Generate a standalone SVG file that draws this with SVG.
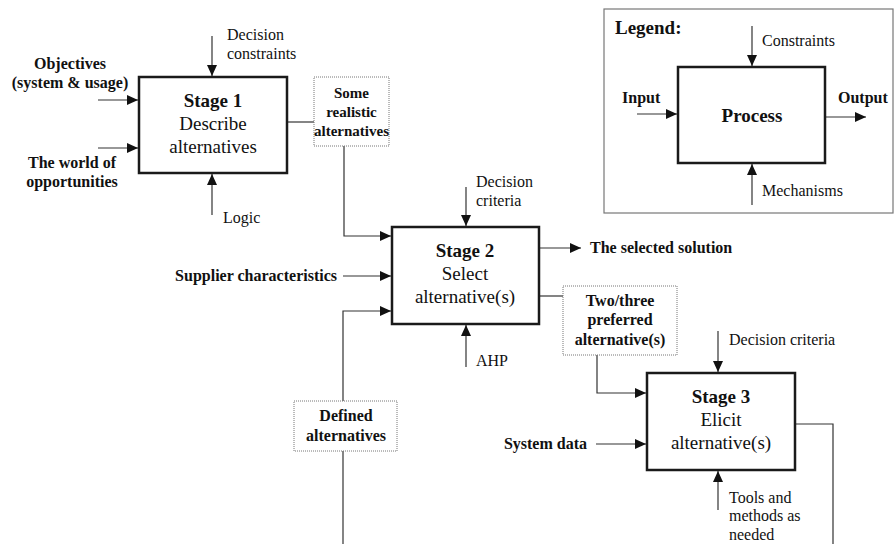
<svg xmlns="http://www.w3.org/2000/svg" width="895" height="544" viewBox="0 0 895 544">
<style>
.t{font-family:"Liberation Serif","Times New Roman",serif;font-size:16px;fill:#111}
.b{font-weight:bold}
.st{font-family:"Liberation Serif","Times New Roman",serif;font-size:19px;fill:#111;text-anchor:middle}
.c{text-anchor:middle}
.e{text-anchor:end}
.box{fill:#fff;stroke:#1a1a1a;stroke-width:2.5}
.dot{fill:#fff;stroke:#777;stroke-width:1;stroke-dasharray:1 1}
.ln{fill:none;stroke:#333;stroke-width:1.2}
.arr{fill:none;stroke:#333;stroke-width:1.2;marker-end:url(#ah)}
</style>
<defs>
<marker id="ah" markerUnits="userSpaceOnUse" markerWidth="12" markerHeight="10" refX="11" refY="5" orient="auto">
<path d="M0,0 L11,5 L0,10 Z" fill="#111"/>
</marker>
</defs>
<rect width="895" height="544" fill="#fff"/>

<g id="legend-frame">
<rect x="604" y="9" width="289" height="204" fill="none" stroke="#777" stroke-width="1.2"/>
</g>

<g id="connectors">
<!-- Stage 1 -->
<path class="arr" d="M212,36 V76"/>
<path class="arr" d="M98,100 H138"/>
<path class="arr" d="M98,148 H138"/>
<path class="arr" d="M212,215 V174"/>
<path class="ln" d="M287,122 H314"/>
<path class="arr" d="M344,146 V236 H391"/>
<!-- Stage 2 -->
<path class="arr" d="M466,187 V226"/>
<path class="arr" d="M343,276 H391"/>
<path class="arr" d="M343,401 V311 H391"/>
<path class="arr" d="M466,367 V325"/>
<path class="arr" d="M539,248 H581"/>
<path class="ln" d="M539,296 H563"/>
<path class="ln" d="M343,451 V544"/>
<!-- Stage 3 -->
<path class="arr" d="M597,355 V393 H646"/>
<path class="arr" d="M718,331 V372"/>
<path class="arr" d="M596,444 H646"/>
<path class="arr" d="M718,510 V471"/>
<path class="ln" d="M795,424 H833 V544"/>
<!-- Legend -->
<path class="arr" d="M752,26 V66"/>
<path class="arr" d="M637,114 H677"/>
<path class="arr" d="M825,117 H866"/>
<path class="arr" d="M752,205 V164"/>
</g>

<g id="legend">
<text class="t b" x="615" y="34" style="font-size:19px">Legend:</text>
<rect class="box" x="678" y="67" width="147" height="96"/>
<text class="st b" x="752" y="122">Process</text>
<text class="t" x="762" y="46">Constraints</text>
<text class="t b" x="622" y="103">Input</text>
<text class="t b" x="838" y="103">Output</text>
<text class="t" x="762" y="196">Mechanisms</text>
</g>

<g id="stage1">
<rect class="box" x="139" y="77" width="148" height="96"/>
<text class="st b" x="213" y="107">Stage 1</text>
<text class="st" x="213" y="130">Describe</text>
<text class="st" x="213" y="153">alternatives</text>
</g>
<g id="label-decision-constraints">
<text class="t" x="227" y="40">Decision</text>
<text class="t" x="227" y="59">constraints</text>
</g>
<g id="label-objectives">
<text class="t b c" x="70" y="69">Objectives</text>
<text class="t b c" x="70" y="88">(system &amp; usage)</text>
</g>
<g id="label-world">
<text class="t b c" x="72" y="168">The world of</text>
<text class="t b c" x="72" y="187">opportunities</text>
</g>
<g id="label-logic"><text class="t" x="223" y="223">Logic</text></g>

<g id="some-realistic">
<rect class="dot" x="314" y="77" width="75" height="69"/>
<text class="t b c" x="351.5" y="98" style="font-size:15px">Some</text>
<text class="t b c" x="351.5" y="117" style="font-size:15px">realistic</text>
<text class="t b c" x="351.5" y="136" style="font-size:15px">alternatives</text>
</g>

<g id="stage2">
<rect class="box" x="392" y="227" width="147" height="97"/>
<text class="st b" x="465" y="257">Stage 2</text>
<text class="st" x="465" y="280">Select</text>
<text class="st" x="465" y="303">alternative(s)</text>
</g>
<g id="label-decision-criteria-2">
<text class="t" x="476" y="187">Decision</text>
<text class="t" x="476" y="206">criteria</text>
</g>
<g id="label-supplier"><text class="t b e" x="337" y="281">Supplier characteristics</text></g>
<g id="label-selected"><text class="t b" x="590" y="253">The selected solution</text></g>
<g id="label-ahp"><text class="t" x="476" y="366">AHP</text></g>

<g id="two-three">
<rect class="dot" x="563" y="286" width="114" height="69"/>
<text class="t b c" x="620" y="306">Two/three</text>
<text class="t b c" x="620" y="325">preferred</text>
<text class="t b c" x="620" y="345">alternative(s)</text>
</g>

<g id="defined">
<rect class="dot" x="294" y="401" width="103" height="50"/>
<text class="t b c" x="346" y="421">Defined</text>
<text class="t b c" x="346" y="441">alternatives</text>
</g>

<g id="stage3">
<rect class="box" x="647" y="373" width="148" height="97"/>
<text class="st b" x="721" y="403">Stage 3</text>
<text class="st" x="721" y="426">Elicit</text>
<text class="st" x="721" y="449">alternative(s)</text>
</g>
<g id="label-decision-criteria-3"><text class="t" x="729" y="345">Decision criteria</text></g>
<g id="label-system-data"><text class="t b e" x="587" y="449">System data</text></g>
<g id="label-tools">
<text class="t" x="729" y="503">Tools and</text>
<text class="t" x="729" y="521">methods as</text>
<text class="t" x="729" y="540">needed</text>
</g>
</svg>
